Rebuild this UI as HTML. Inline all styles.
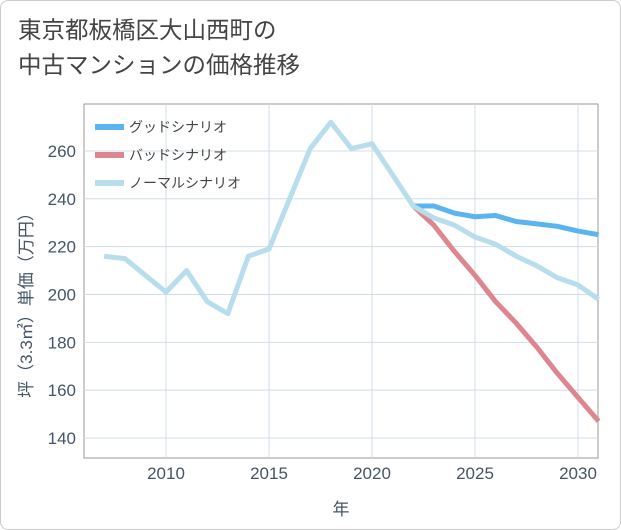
<!DOCTYPE html>
<html><head><meta charset="utf-8"><style>
body{margin:0;background:#fff;font-family:"Liberation Sans","Noto Sans CJK JP",sans-serif;}
#wrap{position:relative;width:619px;height:528px;border:1px solid #ccc;border-radius:8px;overflow:hidden;background:#fff}
#title{position:absolute;left:17px;top:12px;font-size:23.5px;line-height:35px;color:#444}
</style></head><body>
<div id="wrap">
<div id="title">東京都板橋区大山西町の<br>中古マンションの価格推移</div>
<svg id="chart" width="619" height="528" style="position:absolute;left:0;top:0"></svg>
</div>
<script>
const years=[2007,2008,2009,2010,2011,2012,2013,2014,2015,2016,2017,2018,2019,2020,2021,2022,2023,2024,2025,2026,2027,2028,2029,2030,2031];
const normal=[216,215,208,201,210,197,192,216,219,240,261,272,261,263,250,237,232,229,224,221,216,212,207,204,198];
const goodYears=[2022,2023,2024,2025,2026,2027,2028,2029,2030,2031];
const good=[237,237,234,232.5,233,230.5,229.5,228.5,226.5,225];
const bad=[237,229,218,208,197,188,178,167,157,147];
const xTicks=[2010,2015,2020,2025,2030];
const yTicks=[140,160,180,200,220,240,260];
const L=83,R=597,T=103,B=457;
const x=v=>165+(v-2010)*20.6;
const y=v=>437-(v-140)*2.392;
const svg=document.getElementById('chart');
const NS='http://www.w3.org/2000/svg';
function mk(t,a){const e=document.createElementNS(NS,t);for(const k in a)e.setAttribute(k,a[k]);svg.appendChild(e);return e;}
let r=mk('rect',{x:L,y:T,width:R-L,height:B-T,fill:'#fff',stroke:'#999'});


xTicks.forEach(t=>{
 let g=mk('line',{x1:x(t),x2:x(t),y1:T,y2:B,stroke:'#cfdde8','stroke-width':1});
 
 
 let tx=mk('text',{x:x(t),y:478,'text-anchor':'middle','font-size':17,fill:'#445566'});tx.textContent=t;
 
 
});
yTicks.forEach(t=>{
 let g=mk('line',{x1:L,x2:R,y1:y(t),y2:y(t),stroke:'#cfdde8','stroke-width':1});
 
 
 let tx=mk('text',{x:75,y:y(t)+6,'text-anchor':'end','font-size':17,fill:'#445566'});tx.textContent=t;
 
 
});
function line(xs,ys,c,name){
 let p=mk('polyline',{points:xs.map((v,i)=>x(v)+','+y(ys[i])).join(' '),fill:'none',stroke:c,'stroke-width':5,'stroke-linejoin':'round'});
 
 
}
line(goodYears,bad,'#de8690','bad-scenario-line');
line(goodYears,good,'#5ab4f0','good-scenario-line');
line(years,normal,'#b8ddec','normal-scenario-line');
const leg=[['グッドシナリオ','#5ab4f0'],['バッドシナリオ','#de8690'],['ノーマルシナリオ','#b8ddec']];
leg.forEach((l,i)=>{
 let yy=126+i*28;
 let s=mk('line',{x1:94,x2:123,y1:yy,y2:yy,stroke:l[1],'stroke-width':6});
 
 
 let t=mk('text',{x:128,y:yy+5,'font-size':14,fill:'#444'});t.textContent=l[0];
 
 
});
let xt=mk('text',{x:340,y:514,'text-anchor':'middle','font-size':17,fill:'#445566'});xt.textContent='年';


let yt=mk('text',{x:0,y:0,'text-anchor':'middle','font-size':17,fill:'#445566',transform:'translate(31,300) rotate(-90)'});yt.textContent='坪（3.3㎡）単価（万円）';


</script>
</body></html>
